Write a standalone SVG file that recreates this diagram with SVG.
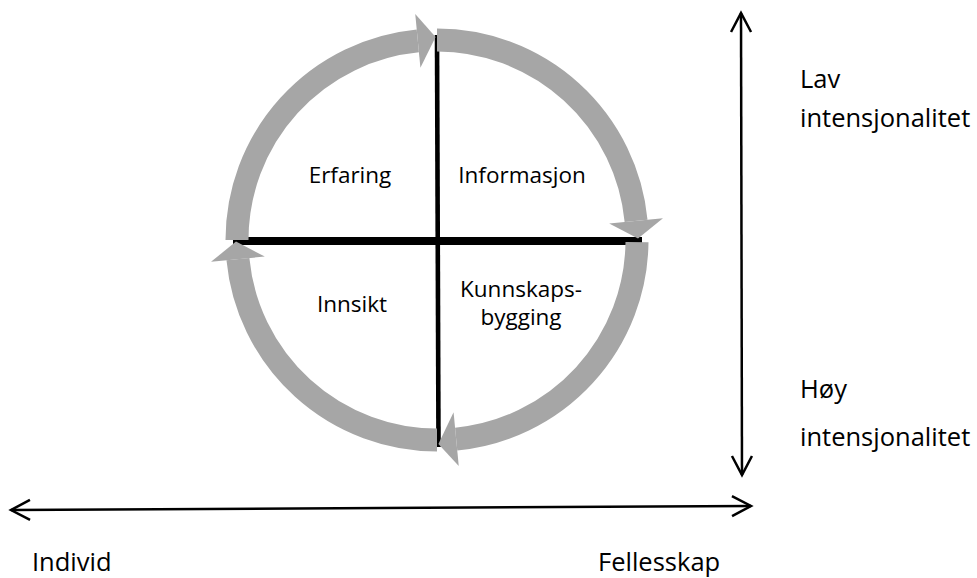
<svg xmlns="http://www.w3.org/2000/svg" width="977" height="578" viewBox="0 0 977 578">
  <style>
    .lbl { font-family: "Open Sans", "Noto Sans", "Liberation Sans", sans-serif; fill: #000; }
    .inner { font-size: 22.5px; text-anchor: middle; }
    .outer { font-size: 25.5px; }
    .ring { fill: none; stroke: #a6a6a6; stroke-width: 23; stroke-linecap: butt; }
    .head { fill: #a6a6a6; stroke: none; }
    .cross { stroke: #000; stroke-linecap: butt; }
    .axis { fill: none; stroke: #000; stroke-width: 2.5; marker-start: url(#open); marker-end: url(#open); }
  </style>
  <defs>
    <marker id="open" markerUnits="userSpaceOnUse" markerWidth="30" markerHeight="30" viewBox="-24 -15 30 30" refX="0" refY="0" orient="auto-start-reverse">
      <path d="M-19,-10 L0,0 L-19,10" fill="none" stroke="#000" stroke-width="2.5" stroke-linejoin="miter"/>
    </marker>
  </defs>
  <rect width="977" height="578" fill="#fff"/>

  <!-- quadrant dividers -->
  <g id="quadrant-lines">
    <line class="cross" x1="233" y1="241" x2="642" y2="241" stroke-width="8"/>
    <line class="cross" x1="437" y1="35" x2="438.5" y2="447" stroke-width="4.6"/>
  </g>

  <g id="connectors">
    <!-- clockwise cycle: four arcs, each ending in a broad arrowhead -->
    <g id="cycle">
      <path class="ring" d="M237,240 A200,200 0 0 1 417.83,40.92"/>
      <polygon class="head" points="420.42,67.8 415.24,14.04 435.58,37"/>
      <path class="ring" d="M437,40 A200,200 0 0 1 636.08,220.83"/>
      <polygon class="head" points="609.2,223.42 662.96,218.24 638,238.6"/>
      <path class="ring" d="M636.99,242.09 A200,200 0 0 1 456.17,439.08"/>
      <polygon class="head" points="453.58,412.2 458.76,465.96 438.42,444"/>
      <path class="ring" d="M437,440 A200,200 0 0 1 237.92,259.17"/>
      <polygon class="head" points="264.8,256.58 211.04,261.76 236,241.6"/>
    </g>
    <!-- axes -->
    <line id="axis-intensity" class="axis" x1="741" y1="13" x2="742" y2="475"/>
    <line id="axis-scope" class="axis" x1="11" y1="510" x2="751" y2="506"/>
  </g>

  <g id="erfaring"><text class="lbl inner" x="350" y="183">Erfaring</text></g>
  <g id="informasjon"><text class="lbl inner" x="522" y="183">Informasjon</text></g>
  <g id="innsikt"><text class="lbl inner" x="352" y="312">Innsikt</text></g>
  <g id="kunnskapsbygging">
    <text class="lbl inner" x="521" y="297">Kunnskaps-</text>
    <text class="lbl inner" x="521" y="325">bygging</text>
  </g>

  <g id="lav-intensjonalitet">
    <text class="lbl outer" x="800" y="88">Lav</text>
    <text class="lbl outer" x="800" y="127">intensjonalitet</text>
  </g>
  <g id="hoy-intensjonalitet">
    <text class="lbl outer" x="800" y="398">Høy</text>
    <text class="lbl outer" x="800" y="446">intensjonalitet</text>
  </g>
  <g id="individ"><text class="lbl outer" x="32" y="571">Individ</text></g>
  <g id="fellesskap"><text class="lbl outer" x="598" y="571">Fellesskap</text></g>
</svg>
